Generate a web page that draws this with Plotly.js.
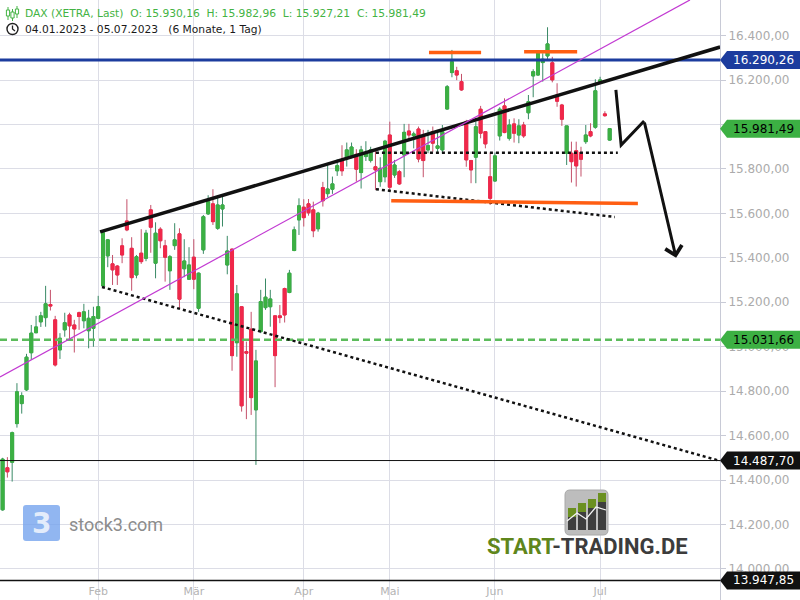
<!DOCTYPE html>
<html><head><meta charset="utf-8">
<script src="https://cdn.plot.ly/plotly-3.0.1.min.js"></script>
<style>html,body{margin:0;padding:0;background:#fff}#chart{width:800px;height:600px}</style>
</head><body><div id="chart"></div>
<script>
// ---------- data ----------
const dates = [
'2023-01-04','2023-01-05','2023-01-06','2023-01-09','2023-01-10','2023-01-11','2023-01-12','2023-01-13','2023-01-16','2023-01-17','2023-01-18','2023-01-19','2023-01-20','2023-01-23','2023-01-24','2023-01-25','2023-01-26','2023-01-27','2023-01-30','2023-01-31',
'2023-02-01','2023-02-02','2023-02-03','2023-02-06','2023-02-07','2023-02-08','2023-02-09','2023-02-10','2023-02-13','2023-02-14','2023-02-15','2023-02-16','2023-02-17','2023-02-20','2023-02-21','2023-02-22','2023-02-23','2023-02-24','2023-02-27','2023-02-28',
'2023-03-01','2023-03-02','2023-03-03','2023-03-06','2023-03-07','2023-03-08','2023-03-09','2023-03-10','2023-03-13','2023-03-14','2023-03-15','2023-03-16','2023-03-17','2023-03-20','2023-03-21','2023-03-22','2023-03-23','2023-03-24','2023-03-27','2023-03-28','2023-03-29','2023-03-30','2023-03-31',
'2023-04-03','2023-04-04','2023-04-05','2023-04-06','2023-04-11','2023-04-12','2023-04-13','2023-04-14','2023-04-17','2023-04-18','2023-04-19','2023-04-20','2023-04-21','2023-04-24','2023-04-25','2023-04-26','2023-04-27','2023-04-28',
'2023-05-02','2023-05-03','2023-05-04','2023-05-05','2023-05-08','2023-05-09','2023-05-10','2023-05-11','2023-05-12','2023-05-15','2023-05-16','2023-05-17','2023-05-18','2023-05-19','2023-05-22','2023-05-23','2023-05-24','2023-05-25','2023-05-26','2023-05-29','2023-05-30','2023-05-31',
'2023-06-01','2023-06-02','2023-06-05','2023-06-06','2023-06-07','2023-06-08','2023-06-09','2023-06-12','2023-06-13','2023-06-14','2023-06-15','2023-06-16','2023-06-19','2023-06-20','2023-06-21','2023-06-22','2023-06-23','2023-06-26','2023-06-27','2023-06-28','2023-06-29','2023-06-30',
'2023-07-03','2023-07-04','2023-07-05'];

const open = [14266,14455,14480,14654,14744,14806,14973,15063,15112,15131,15190,15121,14986,15076,15143,15098,15153,15117,15072,15083,
15128,15274,15409,15373,15363,15454,15566,15443,15323,15421,15398,15616,15376,15529,15454,15342,15455,15508,15351,15304,
15403,15173,15436,15598,15643,15533,15620,15368,15439,15018,15180,14978,15079,14716,15068,15176,15180,15139,15139,15262,15244,15433,15571,
15628,15643,15616,15531,15716,15689,15709,15792,15841,15846,15855,15866,15784,15856,15838,15810,15743,15765,
15953,15773,15788,15863,15971,15950,15980,15946,15886,15968,15893,15886,16070,16234,16242,16193,16013,15838,15853,16069,15968,15765,
15746,15949,16084,15938,16003,15953,15998,16053,16219,16223,16279,16309,16278,16133,16088,15871,15871,15882,15874,15923,15968,15988,
16189,16048,15930.16];

const high = [14500,14503,14618,14836,14795,14968,15098,15139,15157,15274,15256,15139,15061,15153,15153,15121,15158,15193,15166,15180,
15229,15518,15485,15413,15368,15488,15664,15493,15413,15529,15526,15638,15560,15538,15481,15413,15556,15533,15484,15448,
15484,15334,15593,15682,15709,15676,15676,15499,15443,15278,15180,15023,15157,14986,15256,15307,15256,15139,15188,15266,15346,15541,15668,
15664,15665,15653,15607,15742,15817,15766,15844,15907,15919,15919,15889,15904,15925,15900,15886,15853,15931,
16013,15841,15796,16003,16003,15968,15991,15976,15976,15991,15976,15998,16178,16336,16260,16228,16021,15841,16013,16084,15968,15874,
15874,16078,16118,16024,16028,16024,16012,16133,16249,16328,16321,16438,16305,16186,16093,15994,15923,15923,15900,15998,16006,16204,
16215,16060,15982.96];

const low = [14262,14411,14393,14636,14699,14801,14941,15061,15089,15090,15163,14911,14945,15045,15031,14974,15076,15083,14993,15000,
15124,15271,15358,15278,15278,15376,15520,15252,15308,15373,15385,15423,15308,15443,15293,15256,15436,15169,15313,15301,
15259,15157,15418,15593,15548,15526,15541,15326,14892,14955,14708,14674,14693,14468,15061,15166,15090,14818,15106,15109,15241,15430,15503,
15541,15590,15493,15518,15631,15673,15688,15769,15769,15811,15848,15743,15712,15836,15829,15706,15720,15740,
15700,15760,15728,15763,15934,15893,15830,15763,15871,15878,15871,15871,16068,16213,16200,16152,15810,15736,15736,15938,15893,15638,
15743,15928,15961,15928,15919,15916,15940,16024,16123,16220,16193,16287,16190,16080,15994,15818,15739,15721,15766,15913,15943,15981,
16185,16035,15927.21];

const close = [14494,14437,14613,14797,14780,14953,15061,15089,15139,15193,15183,14918,15038,15108,15094,15080,15136,15157,15128,15136,
15180,15513,15481,15346,15323,15413,15526,15311,15405,15383,15511,15538,15511,15477,15403,15405,15481,15214,15386,15368,
15304,15331,15585,15653,15563,15638,15638,15431,14960,15238,14734,14971,14771,14936,15203,15223,15215,14960,15131,15143,15331,15526,15634,
15581,15603,15522,15601,15657,15710,15733,15815,15792,15886,15899,15799,15886,15871,15886,15796,15803,15925,
15718,15818,15733,15965,15953,15958,15845,15838,15905,15916,15904,15968,16170,16283,16223,16156,15841,15796,15990,15961,15913,15668,
15859,16069,15964,15998,15961,15994,15949,16103,16238,16321,16294,16363,16201,16105,16024,15994,15833,15814,15844,15953,15949,16152,
16201,16040,15981.49];

const monthTickDates = ['2023-02-01','2023-03-01','2023-04-03','2023-05-02','2023-06-01','2023-07-03'];
const monthTickLabels = ['Feb','Mär','Apr','Mai','Jun','Jul'];

// price axis ticks (16.000,00 sits fully under the 15.981,49 tag in the reference)
const priceTickValues = [14000,14200,14400,14600,14800,15000,15200,15400,15600,15800,16000,16200,16400];
const priceTickHidden = [16000];

// marked price levels (horizontal lines + right tags)
const levelValues = [16290.26, 15981.49, 15031.66, 14487.70, 13947.85];

// analyst drawings, in (candle index, price)
const trendX0 = [20.4, 20.8, -0.54, 78.1, 78.1, 89.2, 109.1, 81.3];
const trendY0 = [15517, 15269, 14864, 15873, 15709, 16324, 16328, 15657];
const trendX1 = [150.1, 150.1, 143.8, 128.7, 128.1, 100.1, 120.2, 132.9];
const trendY1 = [16349, 14486, 16561, 15873, 15584, 16324, 16328, 15645];
const arrowX = [128.3, 129.4, 134.2, 140.9];
const arrowY = [16156, 15908, 16016, 15400];

const headerName = 'DAX (XETRA, Last)';
const headerRange = '04.01.2023 - 05.07.2023';
const headerSpan = '(6 Monate, 1 Tag)';

// ---------- helpers ----------
const PW = 720, PH = 600, YMIN = 13860, YMAX = 16560.65;
const VPP = (YMAX - YMIN) / PH;           // value per pixel
const px = x => x / PW;                    // pixel -> paper x
const py = y => 1 - y / PH;                // pixel -> paper y
function de(v){ const s = v.toFixed(2).split('.'); return s[0].replace(/\B(?=(\d{3})+(?!\d))/g,'.') + ',' + s[1]; }
function rr(x0,y0,x1,y1,r){
  return `M${px(x0+r)},${py(y0)} L${px(x1-r)},${py(y0)} Q${px(x1)},${py(y0)} ${px(x1)},${py(y0+r)} L${px(x1)},${py(y1-r)} Q${px(x1)},${py(y1)} ${px(x1-r)},${py(y1)} L${px(x0+r)},${py(y1)} Q${px(x0)},${py(y1)} ${px(x0)},${py(y1-r)} L${px(x0)},${py(y0+r)} Q${px(x0)},${py(y0)} ${px(x0+r)},${py(y0)} Z`;
}

const UPB = '#3cb043', UPW = '#3a8a66', DNB = '#f0284a', DNW = '#c4506a';

// ---------- traces ----------
const wickTrace = {
  type:'candlestick', x:dates, open:open, high:high, low:low, close:close,
  increasing:{line:{color:UPW,width:1}, fillcolor:UPB},
  decreasing:{line:{color:DNW,width:1}, fillcolor:DNB},
  whiskerwidth:0, hoverinfo:'skip', showlegend:false
};
const bodyTrace = {
  type:'candlestick', x:dates, open:open, close:close,
  high: open.map((o,i)=>Math.max(o,close[i])),
  low: open.map((o,i)=>Math.min(o,close[i])),
  increasing:{line:{color:UPB,width:1}, fillcolor:UPB},
  decreasing:{line:{color:DNB,width:1}, fillcolor:DNB},
  whiskerwidth:0, hoverinfo:'skip', showlegend:false
};

// ---------- shapes ----------
const shapes = [];
// header backgrounds
shapes.push({type:'rect', xref:'paper', yref:'paper', x0:0, x1:px(432), y0:py(0), y1:py(19), fillcolor:'#fff', line:{width:0}, layer:'between'});
shapes.push({type:'rect', xref:'paper', yref:'paper', x0:0, x1:px(266), y0:py(19), y1:py(37), fillcolor:'#fff', line:{width:0}, layer:'between'});

// level lines
const levelStyle = [
  {color:'#1c3c9e', width:3, dash:'solid'},
  null,
  {color:'#5cbc5c', width:2.5, dash:'7px,4px'},
  {color:'#111111', width:1, dash:'solid'},
  {color:'#111111', width:1.5, dash:'solid'}
];
levelValues.forEach((v,i)=>{
  const s = levelStyle[i]; if(!s) return;
  shapes.push({type:'line', xref:'paper', yref:'y', x0:0, x1:1, y0:v, y1:v, line:{color:s.color, width:s.width, dash:s.dash}});
});

// trend lines
const trendStyle = [
  {color:'#111111', width:3.5, dash:'solid'},
  {color:'#111111', width:2.5, dash:'dot'},
  {color:'#c23ad2', width:1.2, dash:'solid'},
  {color:'#111111', width:2.5, dash:'dot'},
  {color:'#111111', width:2.5, dash:'dot'},
  {color:'#ff5e12', width:3.5, dash:'solid'},
  {color:'#ff5e12', width:3.5, dash:'solid'},
  {color:'#ff5e12', width:3.5, dash:'solid'}
];
trendX0.forEach((x0,i)=>{
  const s = trendStyle[i];
  shapes.push({type:'line', xref:'x', yref:'y', x0:x0, y0:trendY0[i], x1:trendX1[i], y1:trendY1[i], line:{color:s.color,width:s.width,dash:s.dash}});
});
// forecast arrow path (first segments)
shapes.push({type:'path', xref:'x', yref:'y',
  path:`M${arrowX[0]},${arrowY[0]} L${arrowX[1]},${arrowY[1]} L${arrowX[2]},${arrowY[2]}`,
  line:{color:'#111111', width:3}});

// right tags
const tagBg = ['#1c3c9e','#3cb043','#3cb043','#111111','#111111'];
const tagFg = ['#ffffff','#000000','#000000','#ffffff','#ffffff'];
levelValues.forEach((v,i)=>{
  const h = 9*VPP;
  shapes.push({type:'path', xref:'paper', yref:'y',
    path:`M${px(720)},${v} L${px(727)},${v+h} L${px(800)},${v+h} L${px(800)},${v-h} L${px(727)},${v-h} Z`,
    fillcolor:tagBg[i], line:{width:0}});
});

// header icons
const G = '#43b343';
[[8,7,20,10,16],[12.5,9,21,12,18],[17,6,18,9,14]].forEach(c=>{
  shapes.push({type:'line', xref:'paper', yref:'paper', x0:px(c[0]), x1:px(c[0]), y0:py(c[1]), y1:py(c[2]), line:{color:G,width:1}});
  shapes.push({type:'rect', xref:'paper', yref:'paper', x0:px(c[0]-1.6), x1:px(c[0]+1.6), y0:py(c[3]), y1:py(c[4]), line:{color:G,width:1}, fillcolor:'#fff'});
});
shapes.push({type:'circle', xref:'paper', yref:'paper', x0:px(7), x1:px(18), y0:py(23.5), y1:py(34.5), line:{color:'#222',width:1.4}});
shapes.push({type:'path', xref:'paper', yref:'paper', path:`M${px(12.5)},${py(25.5)} L${px(12.5)},${py(29)} L${px(15)},${py(31)}`, line:{color:'#222',width:1.3}});

// stock3 logo box
shapes.push({type:'path', xref:'paper', yref:'paper', path:rr(23,505,60,541,3), fillcolor:'rgba(118,164,238,0.8)', line:{width:0}});
// start-trading icon
shapes.push({type:'path', xref:'paper', yref:'paper', path:rr(565,490,608,535,5), fillcolor:'#bdbdbd', line:{color:'#a8a8a8',width:1}});
[[568,576,508],[578,586,503],[588,596,499],[598,606,493]].forEach((b,k)=>{
  shapes.push({type:'rect', xref:'paper', yref:'paper', x0:px(b[0]), x1:px(b[1]), y0:py(b[2]), y1:py(530), fillcolor:'#3e3e3e', line:{width:0}});
  shapes.push({type:'rect', xref:'paper', yref:'paper', x0:px(b[0]), x1:px(b[1]), y0:py(b[2]), y1:py(b[2]+9), fillcolor:'#6b9020', line:{width:0}});
});
shapes.push({type:'path', xref:'paper', yref:'paper', path:`M${px(567)},${py(521)} L${px(577)},${py(513)} L${px(586)},${py(519)} L${px(596)},${py(507)} L${px(606)},${py(510)}`, line:{color:'#f4f4f4',width:1.3}});

// ---------- annotations ----------
const L = open.length - 1;
const annotations = [];
annotations.push({xref:'paper', yref:'paper', x:px(23), y:py(13), xanchor:'left', yanchor:'middle', showarrow:false,
  text:`${headerName}\u00A0\u00A0O: ${de(open[L])}\u00A0\u00A0H: ${de(high[L])}\u00A0\u00A0L: ${de(low[L])}\u00A0\u00A0C: ${de(close[L])}`,
  font:{family:'DejaVu Sans', size:10.7, color:'#43b343'}});
annotations.push({xref:'paper', yref:'paper', x:px(23), y:py(29), xanchor:'left', yanchor:'middle', showarrow:false,
  text:`${headerRange}\u00A0\u00A0\u00A0${headerSpan}`,
  font:{family:'DejaVu Sans', size:10.7, color:'#1a1a1a'}});
levelValues.forEach((v,i)=>{
  annotations.push({xref:'paper', yref:'y', x:px(731), y:v, xanchor:'left', yanchor:'middle', showarrow:false,
    text:de(v), font:{family:'DejaVu Sans', size:12, color:tagFg[i]}});
});
// arrow head segment
annotations.push({xref:'x', yref:'y', axref:'x', ayref:'y', x:arrowX[3], y:arrowY[3], ax:arrowX[2], ay:arrowY[2],
  text:'', showarrow:true, arrowhead:4, arrowsize:1.1, arrowwidth:3, arrowcolor:'#111111', standoff:0, startstandoff:0});
// logos
annotations.push({xref:'paper', yref:'paper', x:px(41.5), y:py(523), xanchor:'center', yanchor:'middle', showarrow:false,
  text:'<b>3</b>', font:{family:'DejaVu Sans', size:28, color:'rgba(255,255,255,0.75)'}});
annotations.push({xref:'paper', yref:'paper', x:px(67), y:py(524), xanchor:'left', yanchor:'middle', showarrow:false,
  text:'stock3.com', font:{family:'Roboto', size:18, color:'#8c8c8c'}});
annotations.push({xref:'paper', yref:'paper', x:px(587), y:py(546.5), xanchor:'center', yanchor:'middle', showarrow:false,
  text:'<b><span style="color:#5f861c">START</span>-TRADING.DE</b>', font:{family:'Roboto', size:22, color:'#3c3c3c'}});

// ---------- layout ----------
const layout = {
  width:800, height:600,
  margin:{l:0, r:80, t:0, b:0, pad:0},
  paper_bgcolor:'#ffffff', plot_bgcolor:'#ffffff',
  separators:',.',
  showlegend:false,
  font:{family:'DejaVu Sans', size:12, color:'#aaaaaa'},
  boxgap:0.12,
  xaxis:{type:'category', range:[-0.544,150.08], tickmode:'array', tickvals:monthTickDates, ticktext:monthTickLabels,
    showgrid:true, gridcolor:'#dcdde6', gridwidth:1, ticks:'', ticklabelposition:'inside',
    tickfont:{family:'DejaVu Sans', size:11, color:'#b4b4b4'},
    rangeslider:{visible:false}, showline:false, zeroline:false, fixedrange:true},
  yaxis:{side:'right', range:[YMIN,YMAX], tickmode:'array', tickvals:priceTickValues,
    ticktext:priceTickValues.map(v => priceTickHidden.includes(v) ? '' : de(v)),
    showgrid:true, gridcolor:'#dcdde6', gridwidth:1, ticks:'outside', ticklen:5, tickcolor:'#c8cad6',
    tickfont:{family:'DejaVu Sans', size:12, color:'#ababab'},
    showline:true, linecolor:'#c8cad6', linewidth:1, zeroline:false, fixedrange:true},
  shapes:shapes, annotations:annotations
};

Plotly.newPlot('chart', [wickTrace, bodyTrace], layout, {staticPlot:true, displayModeBar:false});
</script>
</body></html>
